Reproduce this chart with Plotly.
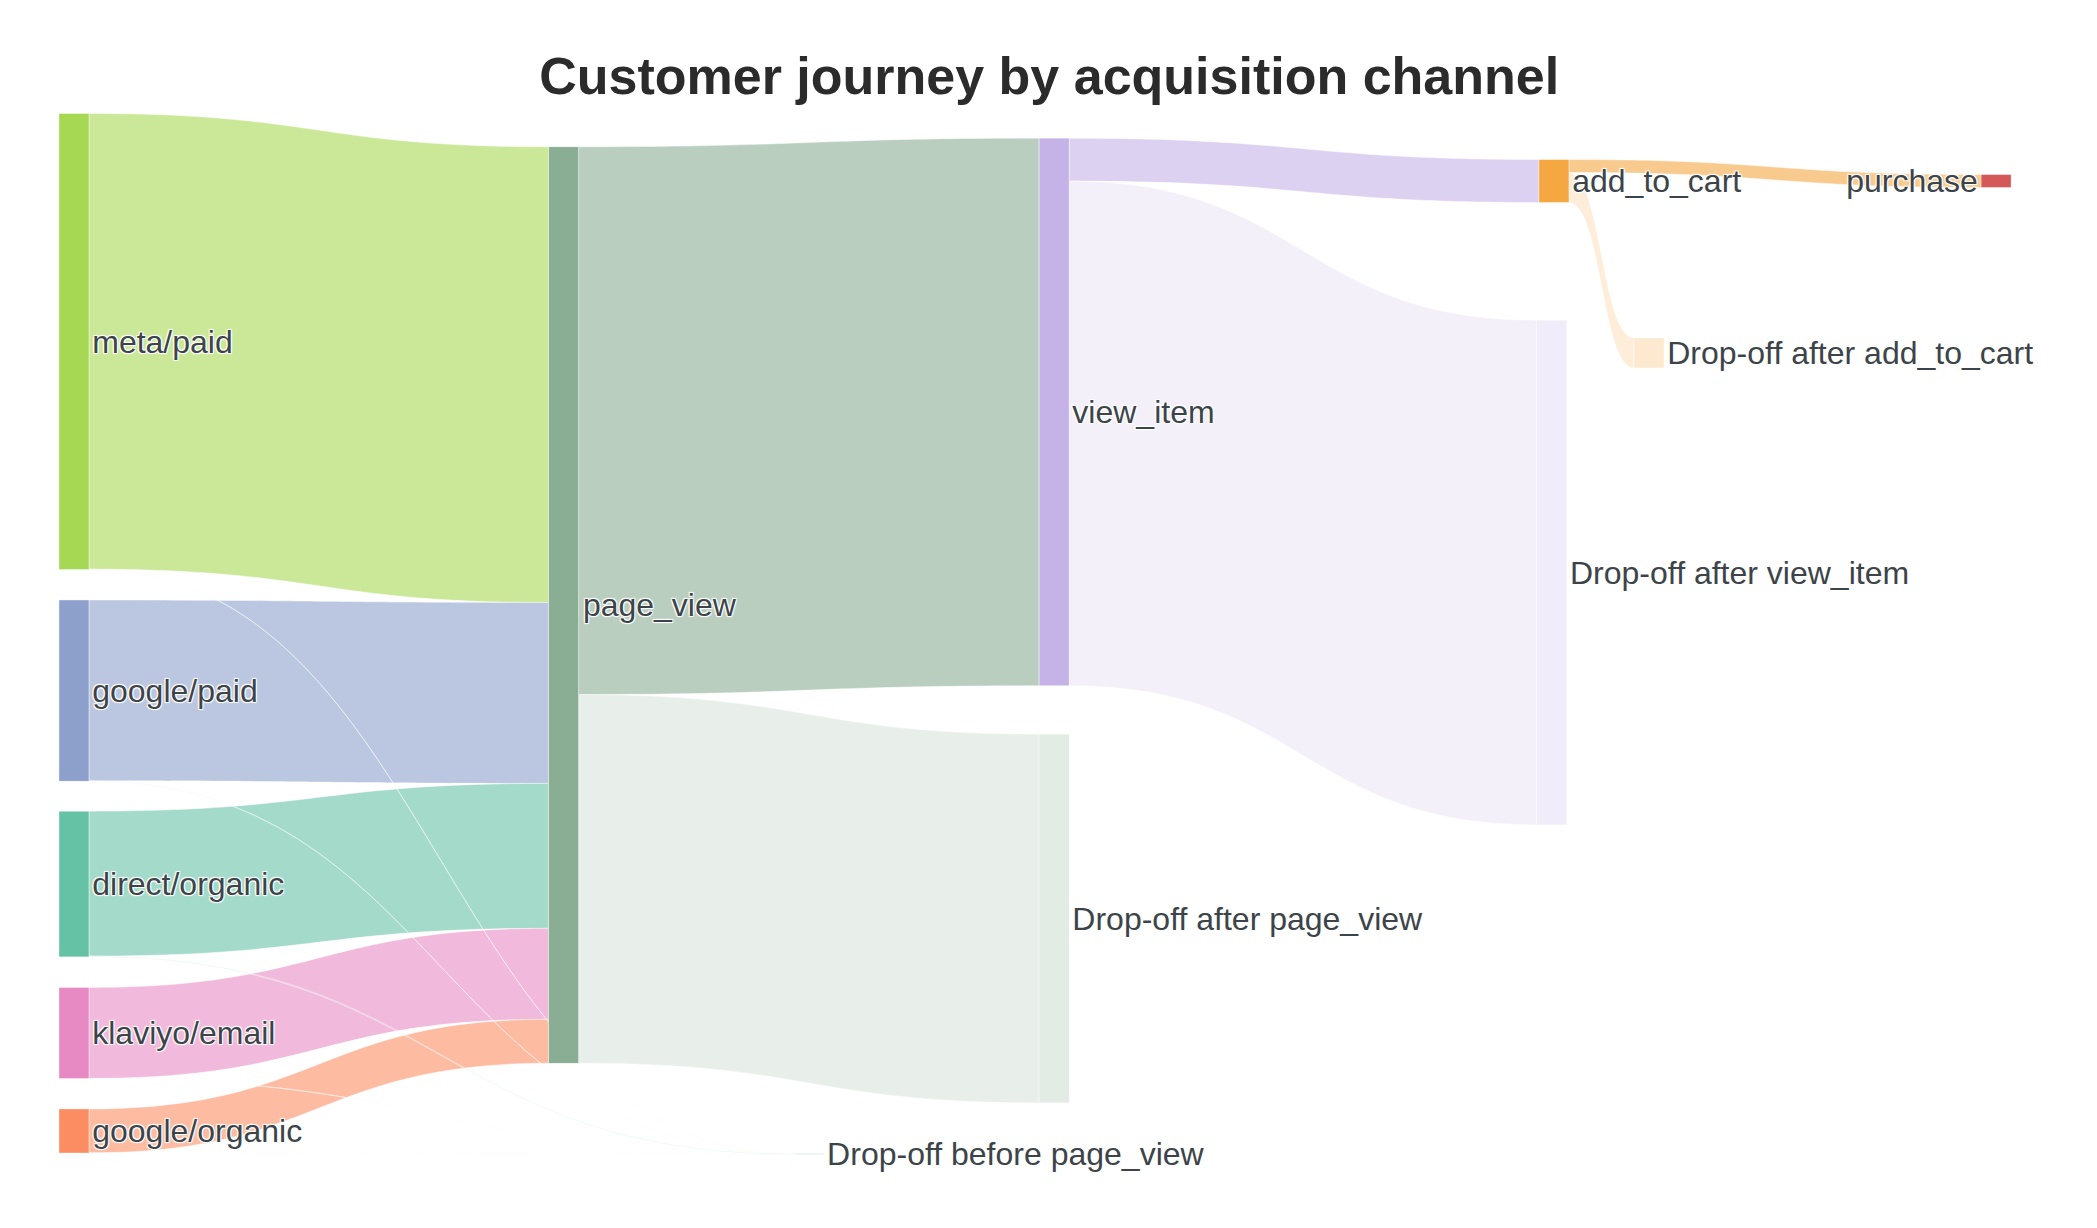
import plotly.graph_objects as go

# ---- data ----
node_labels = [
    "meta/paid", "google/paid", "direct/organic", "klaviyo/email", "google/organic",
    "page_view", "Drop-off before page_view",
    "view_item", "Drop-off after page_view",
    "add_to_cart", "Drop-off after view_item",
    "purchase", "Drop-off after add_to_cart",
]
link_source = ["meta/paid", "google/paid", "direct/organic", "klaviyo/email", "google/organic",
               "meta/paid", "google/paid", "direct/organic", "klaviyo/email", "google/organic",
               "page_view", "page_view",
               "view_item", "view_item",
               "add_to_cart", "add_to_cart"]
link_target = ["page_view", "page_view", "page_view", "page_view", "page_view",
               "Drop-off before page_view", "Drop-off before page_view", "Drop-off before page_view",
               "Drop-off before page_view", "Drop-off before page_view",
               "view_item", "Drop-off after page_view",
               "add_to_cart", "Drop-off after view_item",
               "purchase", "Drop-off after add_to_cart"]
link_value = [4560, 1810, 1450, 910, 440,
              3, 3, 8, 1, 1,
              5480, 3690,
              430, 5050,
              130, 300]

# ---- layout / style ----
node_x = [0.0080, 0.0080, 0.0080, 0.0080, 0.0080,
          0.2532, 0.3760,
          0.4988, 0.4988,
          0.7491, 0.7480,
          0.9705, 0.7967]
node_y = [0.2153, 0.5516, 0.7380, 0.8815, 0.9759,
          0.4692, 0.998,
          0.2832, 0.7712,
          0.0607, 0.4379,
          0.0607, 0.2264]
base_rgb = {
    "meta/paid": (166, 216, 84),
    "google/paid": (141, 160, 203),
    "direct/organic": (102, 194, 165),
    "klaviyo/email": (231, 138, 195),
    "google/organic": (252, 141, 98),
    "page_view": (138, 174, 148),
    "view_item": (197, 179, 232),
    "add_to_cart": (245, 167, 66),
    "purchase": (213, 88, 88),
}
dropoff_parent = {
    "Drop-off before page_view": "direct/organic",
    "Drop-off after page_view": "page_view",
    "Drop-off after view_item": "view_item",
    "Drop-off after add_to_cart": "add_to_cart",
}


def rgba(rgb, a):
    return f"rgba({rgb[0]},{rgb[1]},{rgb[2]},{a})"


node_colors = []
for lab in node_labels:
    if lab in base_rgb:
        node_colors.append(rgba(base_rgb[lab], 1))
    else:
        node_colors.append(rgba(base_rgb[dropoff_parent[lab]], 0.25))

idx = {lab: i for i, lab in enumerate(node_labels)}
link_colors = []
for s, t in zip(link_source, link_target):
    a = 0.2 if t.startswith("Drop-off") else 0.6
    link_colors.append(rgba(base_rgb[s], a))

fig = go.Figure(go.Sankey(
    arrangement="fixed",
    node=dict(
        label=node_labels,
        x=node_x,
        y=node_y,
        pad=30,
        thickness=30,
        color=node_colors,
        line=dict(color="rgba(255,255,255,0.8)", width=0.5),
    ),
    link=dict(
        source=[idx[s] for s in link_source],
        target=[idx[t] for t in link_target],
        value=link_value,
        color=link_colors,
        line=dict(color="rgba(255,255,255,0.9)", width=0.5),
    ),
    textfont=dict(family="Liberation Sans, Arial, sans-serif", size=32, color="#3d4449"),
))

fig.update_layout(
    width=2097,
    height=1228,
    margin=dict(l=50, r=50, t=110, b=80),
    paper_bgcolor="white",
    font=dict(family="Liberation Sans, Arial, sans-serif", color="#3d4449"),
    title=dict(
        text="<b>Customer journey by acquisition channel</b>",
        x=0.4965, xanchor="center",
        y=1 - 68 / 1228, yanchor="middle", yref="container",
        font=dict(family="Liberation Sans, Arial, sans-serif", size=52, color="#2b2b2b"),
    ),
)

fig.write_html("out.html")
